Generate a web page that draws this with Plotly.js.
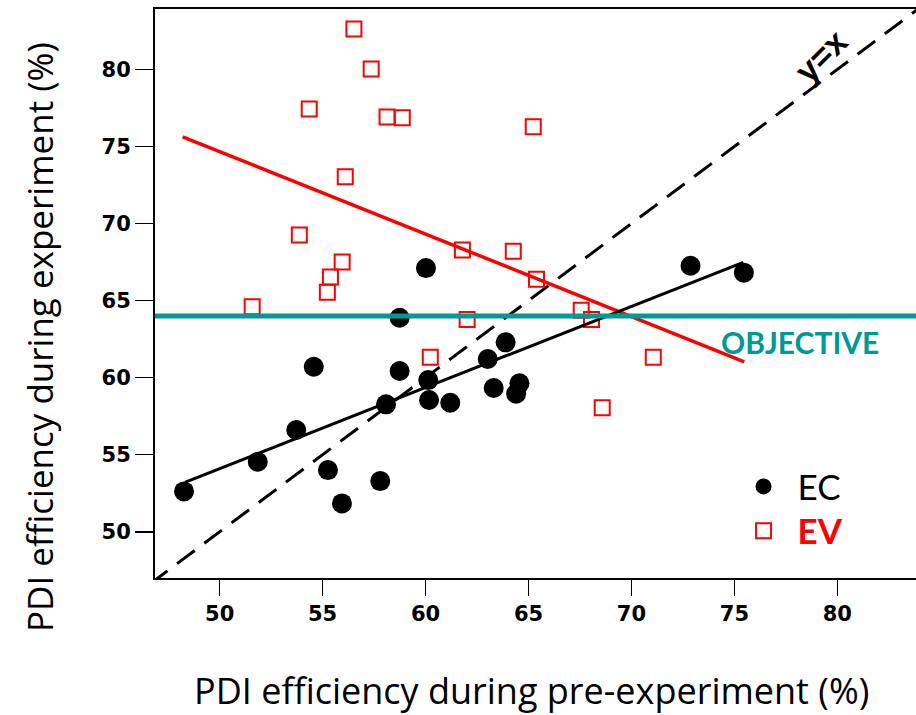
<!DOCTYPE html>
<html><head><meta charset="utf-8">
<script src="https://cdn.plot.ly/plotly-3.0.1.min.js"></script>
<style>html,body{margin:0;padding:0;background:#fff}#chart{width:916px;height:715px}</style>
</head><body><div id="chart"></div>
<script>
// EC group (black dots)
const ecX = [48.27, 51.85, 53.72, 54.57, 55.26, 55.94, 57.80, 58.08, 58.74, 58.74, 60.02, 60.13, 60.17, 61.20, 63.02, 63.31, 63.89, 64.40, 64.56, 72.87, 75.46];
const ecY = [52.62, 54.54, 56.60, 60.71, 54.00, 51.84, 53.29, 58.27, 60.43, 63.89, 67.11, 59.84, 58.55, 58.37, 61.21, 59.33, 62.29, 58.96, 59.63, 67.26, 66.81];
// EV group (red open squares)
const evX = [56.52, 57.36, 54.35, 58.13, 58.87, 65.23, 56.10, 53.87, 55.95, 55.38, 55.23, 51.58, 61.79, 64.26, 65.39, 62.02, 67.56, 68.06, 60.23, 71.06, 68.58];
const evY = [82.62, 80.03, 77.43, 76.91, 76.87, 76.28, 73.04, 69.25, 67.50, 66.53, 65.54, 64.60, 68.28, 68.20, 66.38, 63.77, 64.37, 63.77, 61.32, 61.32, 58.05];
// fitted lines
const ecFitX = [48.31, 75.43];
const ecFitY = [53.21, 67.48];
const evFitX = [48.20, 75.48];
const evFitY = [75.63, 61.03];
// identity line y = x
const identityX = [40, 90];
const identityY = [40, 90];
// objective level
const objectiveY = 64;
const tickVals = [50, 55, 60, 65, 70, 75, 80];
const tickText = ['50', '55', '60', '65', '70', '75', '80'];

const traces = [
  {x: identityX, y: identityY, mode: 'lines', showlegend: false, hoverinfo: 'skip',
   line: {color: '#000', width: 3, dash: '22px,12px'}},
  {x: ecX, y: ecY, mode: 'markers', name: 'EC', legend: 'legend',
   marker: {symbol: 'circle', size: 20, color: '#000'}},
  {x: evX, y: evY, mode: 'markers', name: '<b><span style="color:#ff0000">EV</span></b>', legend: 'legend2',
   marker: {symbol: 'square-open', size: 15, color: '#ff0000', line: {width: 2, color: '#ff0000'}}},
  {x: evFitX, y: evFitY, mode: 'lines', showlegend: false, hoverinfo: 'skip',
   line: {color: '#ff0000', width: 3.5}},
  {x: ecFitX, y: ecFitY, mode: 'lines', showlegend: false, hoverinfo: 'skip',
   line: {color: '#000', width: 3}}
];

const tickFont = {family: 'DejaVu Sans, sans-serif', size: 21, color: '#000', weight: 'bold'};

const layout = {
  width: 916, height: 715,
  margin: {l: 155, r: 0, t: 9, b: 137, pad: 0},
  paper_bgcolor: '#fff', plot_bgcolor: '#fff',
  showlegend: true,
  xaxis: {range: [46.86, 83.82], tickvals: tickVals, ticktext: tickText, ticks: 'outside', ticklen: 16, tickwidth: 1.5,
          tickcolor: '#000', showline: true, linecolor: '#000', linewidth: 2, mirror: true,
          showgrid: false, zeroline: false, tickfont: tickFont},
  yaxis: {range: [47.0, 83.92], tickvals: tickVals, ticktext: tickText, ticks: 'outside', ticklen: 18, tickwidth: 1.5,
          tickcolor: '#000', showline: true, linecolor: '#000', linewidth: 2, mirror: false,
          showgrid: false, zeroline: false, tickfont: tickFont},
  legend: {x: 0.755, y: 0.1605, xanchor: 'left', yanchor: 'middle', bgcolor: 'rgba(0,0,0,0)',
           font: {family: 'Lato, Open Sans, sans-serif', size: 35, color: '#000'}, itemwidth: 58},
  legend2: {x: 0.755, y: 0.0827, xanchor: 'left', yanchor: 'middle', bgcolor: 'rgba(0,0,0,0)',
           font: {family: 'Lato, Open Sans, sans-serif', size: 35, color: '#ff0000'}, itemwidth: 58},
  shapes: [
    {type: 'line', xref: 'paper', x0: 0, x1: 1, yref: 'y', y0: objectiveY, y1: objectiveY,
     line: {color: '#009A96', width: 5}, layer: 'above'}
  ],
  annotations: [
    {text: 'OBJECTIVE', x: 78.18, y: 62.31, xref: 'x', yref: 'y', showarrow: false,
     xanchor: 'center', yanchor: 'middle',
     font: {family: 'Lato, Open Sans, sans-serif', size: 30, color: '#009A96', weight: 'bold'}},
    {text: 'y=x', x: 79.2, y: 80.87, xref: 'x', yref: 'y', showarrow: false, textangle: -45,
     xanchor: 'center', yanchor: 'middle',
     font: {family: 'Liberation Sans, Arial, sans-serif', size: 34, color: '#000', weight: 'bold'}},
    {text: 'PDI efficiency during experiment (%)', xref: 'paper', yref: 'paper', x: -0.151, y: 0.4236,
     xanchor: 'center', yanchor: 'middle', textangle: -90, showarrow: false,
     font: {family: 'Open Sans, sans-serif', size: 35, color: '#000'}},
    {text: 'PDI efficiency during pre-experiment (%)', xref: 'paper', yref: 'paper', x: 0.4954, y: -0.197,
     xanchor: 'center', yanchor: 'middle', showarrow: false,
     font: {family: 'Open Sans, sans-serif', size: 36, color: '#000'}}
  ]
};

Plotly.newPlot('chart', traces, layout, {staticPlot: true, displayModeBar: false});
</script>
</body></html>
